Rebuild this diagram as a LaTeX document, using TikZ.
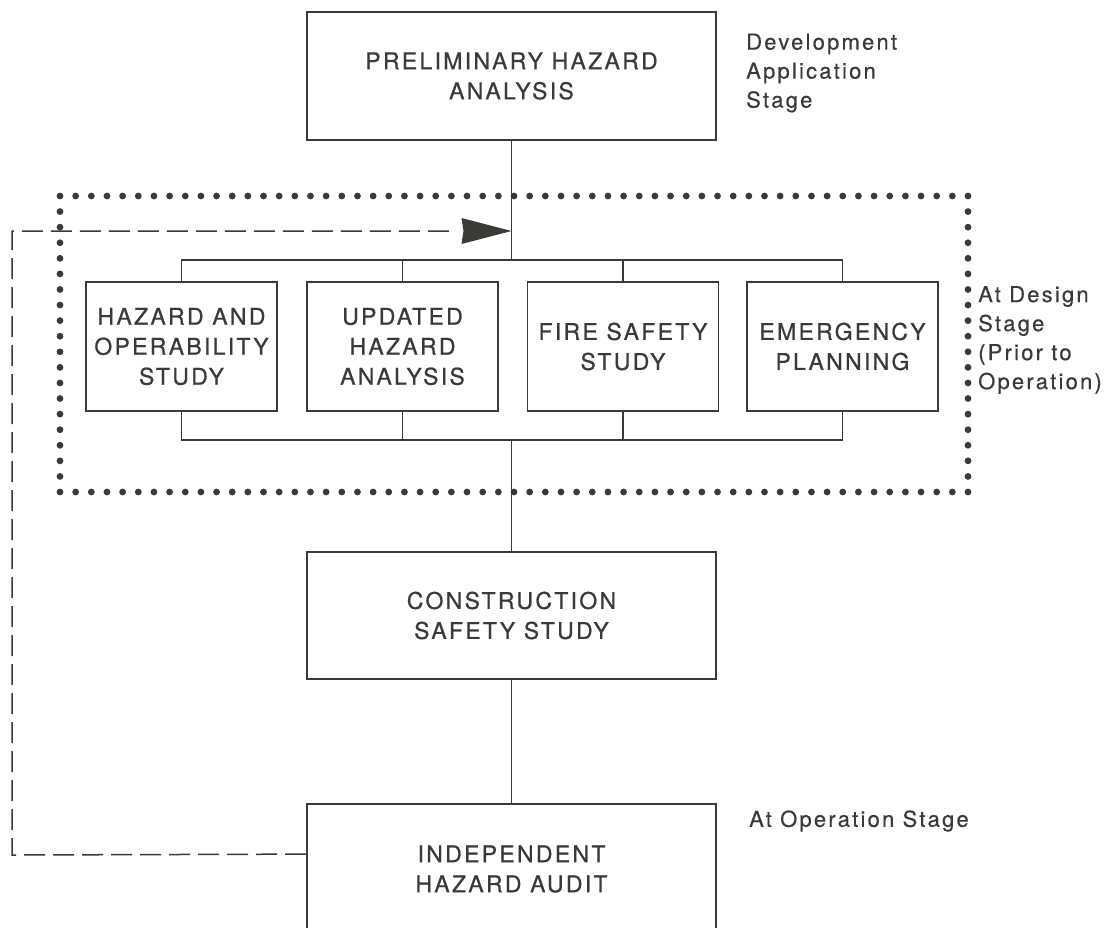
\documentclass[tikz,border=0pt]{standalone}
\usepackage{fontspec}
\setmainfont{TeX Gyre Heros}[LetterSpace=10]
\newfontfamily\boxfont{TeX Gyre Heros}[LetterSpace=10,FakeBold=0.7]
\newfontfamily\labelfont{TeX Gyre Heros}[LetterSpace=10,FakeBold=0.3]
\usetikzlibrary{arrows.meta,calc}
\definecolor{ink}{RGB}{58,58,54}
\tikzset{
  stagebox/.style={draw=ink, line width=1.8pt, text=ink, align=center, inner sep=0pt,
    font=\boxfont\fontsize{23}{30}\selectfont},
  bigbox/.style={stagebox, minimum width=409pt, minimum height=128pt},
  smallbox/.style={stagebox, minimum width=191pt, minimum height=129pt},
  stagelabel/.style={text=ink, align=left, anchor=west, inner sep=0pt,
    font=\labelfont\fontsize{22}{29}\selectfont},
  link/.style={draw=ink, line width=1.6pt},
  feedback/.style={draw=ink, line width=1.5pt, dash pattern=on 21pt off 8pt},
  dot/.style={fill=ink}
}
\begin{document}
\begin{tikzpicture}[x=1pt,y=-1pt]
\clip (0,0) rectangle (1113,927);
\fill[white] (0,0) rectangle (1113,927);

% main boxes
\node[bigbox] (pha) at (511.5,76) {PRELIMINARY HAZARD\\ANALYSIS};
\node[stagelabel] (dev) at (746,73) {Development\\Application\\Stage};

\node[smallbox] (hazop) at (181.5,346.5) {HAZARD AND\\OPERABILITY\\STUDY};
\node[smallbox] (uha) at (402.5,346.5) {UPDATED\\HAZARD\\ANALYSIS};
\node[smallbox] (fss) at (623,346.5) {FIRE SAFETY\\STUDY};
\node[smallbox] (emp) at (842.5,346.5) {EMERGENCY\\PLANNING};
\node[stagelabel] (design) at (978,340) {At Design\\Stage\\(Prior to\\Operation)};

\node[bigbox, minimum height=127pt] (css) at (511.5,615.5) {CONSTRUCTION\\SAFETY STUDY};
\node[bigbox, minimum height=130pt] (iha) at (511.5,869) {INDEPENDENT\\HAZARD AUDIT};
\node[stagelabel] (ops) at (749,821) {At Operation Stage};

% dotted frame
\foreach \i in {0,...,58} {
  \fill[dot] ({60+\i*15.6552},196) circle (3.4);
  \fill[dot] ({60+\i*15.6552},492) circle (3.4);
}
\foreach \i in {1,...,18} {
  \fill[dot] (60,{196+\i*15.5789}) circle (3.4);
  \fill[dot] (968,{196+\i*15.5789}) circle (3.4);
}

% bus coordinates
\coordinate (bt) at (511.5,260);
\coordinate (bb) at (511.5,440);
\coordinate (fb) at (511.5,231);

% connectors
\draw[link] (pha.south) -- (bt);
\draw[link] (hazop.north) |- (emp.north |- bt) -- (emp.north);
\draw[link] (uha.north) -- (uha.north |- bt);
\draw[link] (fss.north) -- (fss.north |- bt);
\draw[link] (hazop.south) |- (emp.south |- bb) -- (emp.south);
\draw[link] (uha.south) -- (uha.south |- bb);
\draw[link] (fss.south) -- (fss.south |- bb);
\draw[link] (bb) -- (css.north);
\draw[link] (css.south) -- (iha.north);

% feedback
\coordinate (fbstart) at ($(iha.north west)+(0,51)$);
\coordinate (fbcorner1) at (12,855);
\coordinate (fbcorner2) at (12,231);
\draw[feedback] (fbstart) -- (fbcorner1) -- (fbcorner2) -- ($(fb)+(-56,0)$);
\fill[ink] (fb) -- ($(fb)+(-50,-13)$) -- ($(fb)+(-48,0)$) -- ($(fb)+(-50,13)$) -- cycle;
\end{tikzpicture}
\end{document}
